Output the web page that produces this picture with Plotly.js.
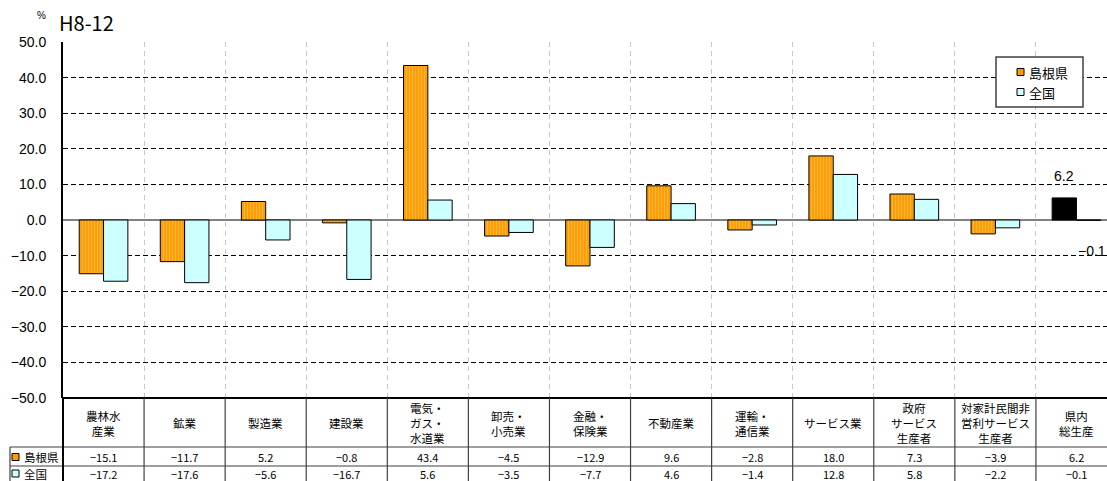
<!DOCTYPE html>
<html>
<head>
<meta charset="utf-8">
<script src="https://cdn.plot.ly/plotly-3.0.1.min.js"></script>
<style>
html, body { margin: 0; padding: 0; overflow: hidden; background: #fff; }
#chart { width: 1118px; height: 481px; }
</style>
</head>
<body>
<div id="chart"></div>
<script>
// ---- data ----
const categories = [
  '農林水<br>産業', '鉱業', '製造業', '建設業', '電気・<br>ガス・<br>水道業',
  '卸売・<br>小売業', '金融・<br>保険業', '不動産業', '運輸・<br>通信業', 'サービス業',
  '政府<br>サービス<br>生産者', '対家計民間非<br>営利サービス<br>生産者', '県内<br>総生産'
];
const shimane = [-15.1, -11.7, 5.2, -0.8, 43.4, -4.5, -12.9, 9.6, -2.8, 18.0, 7.3, -3.9, 6.2];
const zenkoku = [-17.2, -17.6, -5.6, -16.7, 5.6, -3.5, -7.7, 4.6, -1.4, 12.8, 5.8, -2.2, -0.1];
const seriesNames = ['島根県', '全国'];
const periodLabel = 'H8-12';
const unitLabel = '%';

// ---- geometry helpers (pixel -> paper) ----
const L = 63, R = 1117, T = 42, B = 398;
const W = R - L, H = B - T;
const px = p => (p - L) / W;
const py = p => (B - p) / H;
const n = categories.length;
const lastIdx = n - 1;
const fmt = v => v.toFixed(1).replace('-', '\u2212');

const orange = '#FF9900', cyan = '#CCFFFF';
const jp = '"Noto Sans CJK JP", "Noto Sans", sans-serif';
const lat = '"Liberation Sans", Arial, sans-serif';

const traces = [
  {
    type: 'bar', name: seriesNames[0], offsetgroup: 'pref',
    x: categories.slice(0, lastIdx), y: shimane.slice(0, lastIdx),
    marker: {
      color: orange,
      line: { color: '#000', width: 1 },
      pattern: { shape: '|', fillmode: 'replace', bgcolor: '#FF9A00', fgcolor: '#FFB83A', size: 3, solidity: 0.4 }
    },
    showlegend: false, hoverinfo: 'skip'
  },
  {
    type: 'bar', name: seriesNames[0], offsetgroup: 'pref',
    x: [categories[lastIdx]], y: [shimane[lastIdx]],
    marker: { color: '#000000', line: { color: '#000', width: 1 } },
    showlegend: false, hoverinfo: 'skip'
  },
  {
    type: 'bar', name: seriesNames[1], offsetgroup: 'nat',
    x: categories, y: zenkoku,
    marker: { color: cyan, line: { color: '#000', width: 1 } },
    showlegend: false, hoverinfo: 'skip'
  }
];

const shapes = [];
const annotations = [];
const tline = '#404040';

// table horizontal lines
shapes.push({ type: 'line', xref: 'paper', yref: 'paper', x0: 0, x1: 1, y0: 0, y1: 0, line: { color: '#000', width: 2 } });
shapes.push({ type: 'line', xref: 'paper', yref: 'paper', x0: px(10), x1: 1, y0: py(447), y1: py(447), line: { color: tline, width: 1.2 } });
shapes.push({ type: 'line', xref: 'paper', yref: 'paper', x0: px(10), x1: 1, y0: py(466), y1: py(466), line: { color: tline, width: 1.2 } });
// table vertical lines
for (let k = 1; k <= n; k++) {
  shapes.push({ type: 'line', xref: 'paper', yref: 'paper', x0: k / n, x1: k / n, y0: 0, y1: py(485), line: { color: tline, width: 1.2 } });
}
shapes.push({ type: 'line', xref: 'paper', yref: 'paper', x0: 0, x1: 0, y0: 0, y1: py(485), line: { color: '#000', width: 2 } });
shapes.push({ type: 'line', xref: 'paper', yref: 'paper', x0: px(10), x1: px(10), y0: py(447), y1: py(485), line: { color: tline, width: 1.2 } });

// table text
categories.forEach((c, i) => {
  annotations.push({ xref: 'x', yref: 'paper', x: c, y: py(423), text: c, showarrow: false,
    font: { family: jp, size: 11.5, color: '#000' }, xanchor: 'center', yanchor: 'middle' });
  annotations.push({ xref: 'x', yref: 'paper', x: c, y: py(457), text: fmt(shimane[i]), showarrow: false,
    font: { family: jp, size: 11, color: '#000' }, xanchor: 'center', yanchor: 'middle' });
  annotations.push({ xref: 'x', yref: 'paper', x: c, y: py(473.5), text: fmt(zenkoku[i]), showarrow: false,
    font: { family: jp, size: 11, color: '#000' }, xanchor: 'center', yanchor: 'middle' });
});
// row headers with keys
[[457, orange], [473.5, cyan]].forEach(([yy, col], j) => {
  shapes.push({ type: 'rect', xref: 'paper', yref: 'paper', x0: px(12), x1: px(19), y0: py(yy - 3.5), y1: py(yy + 3.5),
    fillcolor: col, line: { color: '#000', width: 1 } });
  annotations.push({ xref: 'paper', yref: 'paper', x: px(22), y: py(yy), text: seriesNames[j], showarrow: false,
    font: { family: jp, size: 11.5, color: '#000' }, xanchor: 'left', yanchor: 'middle' });
});

// legend box (manual)
shapes.push({ type: 'rect', xref: 'paper', yref: 'paper', x0: px(996), x1: px(1083), y0: py(57), y1: py(107),
  fillcolor: '#fff', line: { color: '#404040', width: 1.5 }, layer: 'above' });
[[72, orange], [92, cyan]].forEach(([yy, col], j) => {
  shapes.push({ type: 'rect', xref: 'paper', yref: 'paper', x0: px(1017), x1: px(1024), y0: py(yy - 3.5), y1: py(yy + 3.5),
    fillcolor: col, line: { color: '#000', width: 1 }, layer: 'above' });
  annotations.push({ xref: 'paper', yref: 'paper', x: px(1027), y: py(yy), text: seriesNames[j], showarrow: false,
    font: { family: jp, size: 13, color: '#000' }, xanchor: 'left', yanchor: 'middle' });
});

// bar value labels for the total category
annotations.push({ xref: 'x', yref: 'y', x: categories[lastIdx], y: shimane[lastIdx], xshift: -12, yshift: 22,
  text: fmt(shimane[lastIdx]), showarrow: false, font: { family: lat, size: 14, color: '#000' } });
annotations.push({ xref: 'x', yref: 'y', x: categories[lastIdx], y: zenkoku[lastIdx], xshift: 16, yshift: -31,
  text: fmt(zenkoku[lastIdx]), showarrow: false, font: { family: lat, size: 14, color: '#000' } });

// title & unit
annotations.push({ xref: 'paper', yref: 'paper', x: px(57), y: py(23), text: periodLabel, showarrow: false,
  font: { family: jp, size: 20, color: '#000' }, xanchor: 'left', yanchor: 'middle' });
annotations.push({ xref: 'paper', yref: 'paper', x: px(41), y: py(16), text: unitLabel, showarrow: false,
  font: { family: lat, size: 10, color: '#000' }, xanchor: 'center', yanchor: 'middle' });

const layout = {
  width: 1118, height: 481,
  margin: { l: L, r: 1118 - R, t: T, b: 481 - B, pad: 0 },
  paper_bgcolor: '#fff', plot_bgcolor: '#fff',
  barmode: 'group', bargap: 0.4, bargroupgap: 0,
  showlegend: false,
  xaxis: {
    type: 'category', categoryorder: 'array', categoryarray: categories,
    range: [-0.5, n - 0.5], fixedrange: true,
    showticklabels: false, ticks: '', tickson: 'boundaries',
    showgrid: true, gridcolor: '#c8c8c8', griddash: '5px,4px', gridwidth: 1,
    showline: false, zeroline: false
  },
  yaxis: {
    range: [-50, 50], dtick: 10, tick0: 0, tickformat: '.1f', fixedrange: true,
    showgrid: true, gridcolor: '#000', griddash: '5px,3px', gridwidth: 1,
    zeroline: true, zerolinecolor: '#808080', zerolinewidth: 2,
    showline: true, linecolor: '#000', linewidth: 2,
    ticks: '', ticklabelstandoff: 12,
    tickfont: { family: lat, size: 14, color: '#000' }
  },
  shapes: shapes,
  annotations: annotations
};

Plotly.newPlot('chart', traces, layout, { displayModeBar: false, staticPlot: true });
</script>
</body>
</html>
